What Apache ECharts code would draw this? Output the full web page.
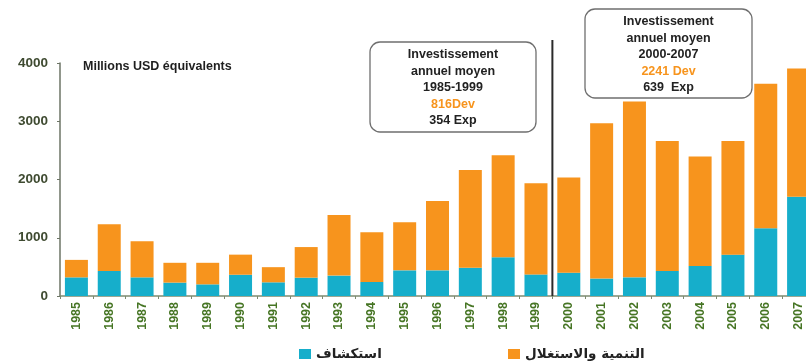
<!DOCTYPE html>
<html>
<head>
<meta charset="utf-8">
<script src="https://cdn.jsdelivr.net/npm/echarts@6/dist/echarts.min.js"></script>
<style>
html,body{margin:0;padding:0;background:#fff;overflow:hidden;}
#chart{width:815px;height:361px;}
</style>
</head>
<body>
<div id="chart"></div>
<script>
// Annual investment, million USD equivalent
const years = ['1985','1986','1987','1988','1989','1990','1991','1992','1993','1994','1995','1996','1997','1998','1999','2000','2001','2002','2003','2004','2005','2006','2007'];
const exploration = [320,430,320,230,200,365,235,315,350,240,440,440,485,665,370,400,300,320,430,515,710,1165,1705];
const development = [300,800,620,340,370,345,260,525,1040,855,825,1190,1680,1750,1565,1635,2665,3020,2230,1880,1950,2480,2200];
const yTicks = [0,1000,2000,3000,4000];
const expName = 'استكشاف';
const devName = 'التنمية والاستغلال';

const chart = echarts.init(document.getElementById('chart'));
const fam = 'Liberation Sans';

function box(id, x, y, w, h, lines) {
  const children = [{
    type: 'rect',
    shape: {x: 0, y: 0, width: w, height: h, r: 10},
    style: {fill: '#fff', stroke: '#6f6f6f', lineWidth: 1.3}
  }];
  lines.forEach((ln, i) => {
    children.push({
      type: 'text',
      x: w / 2, y: 13 + i * 16.5,
      style: {text: ln.t, fill: ln.c || '#222', fontFamily: fam, fontWeight: 'bold', fontSize: 12.5, align: 'center', verticalAlign: 'middle'}
    });
  });
  return {id: id, type: 'group', x: x, y: y, children: children, z: 10};
}

chart.setOption({
  animation: false,
  // the plot runs past the right edge of the visible window
  grid: {left: 60, top: 63, bottom: 65, right: 0, containLabel: false},
  legend: [
    {data: [expName], left: 294, top: 342, itemWidth: 12, itemHeight: 10, icon: 'rect',
     textStyle: {fontFamily: 'DejaVu Sans', fontSize: 13.5, color: '#222', fontWeight: 'bold'}},
    {data: [devName], left: 503, top: 342, itemWidth: 12, itemHeight: 10, icon: 'rect',
     textStyle: {fontFamily: 'DejaVu Sans', fontSize: 13.5, color: '#222', fontWeight: 'bold'}}
  ],
  xAxis: {
    type: 'category', data: years,
    axisLine: {lineStyle: {color: '#7d8a70', width: 1.5}},
    axisTick: {show: true, length: 3, lineStyle: {color: '#7d8a70'}},
    axisLabel: {rotate: 90, color: '#467524', fontWeight: 'bold', fontSize: 12.5, fontFamily: fam, margin: 6, interval: 0}
  },
  yAxis: {
    type: 'value', min: yTicks[0], max: yTicks[yTicks.length - 1], interval: 1000,
    splitLine: {show: false},
    axisLine: {show: true, lineStyle: {color: '#6d7566', width: 1.5}},
    axisTick: {show: true, length: 3, lineStyle: {color: '#6d7566'}},
    axisLabel: {color: '#3e4a30', fontWeight: 'bold', fontSize: 13.5, fontFamily: fam, margin: 12,
                formatter: v => String(v)}
  },
  series: [
    {name: expName, type: 'bar', stack: 'inv', data: exploration, barWidth: 23,
     itemStyle: {color: '#16AECB'}},
    {name: devName, type: 'bar', stack: 'inv', data: development, barWidth: 23,
     itemStyle: {color: '#F7941D'}}
  ],
  graphic: [
    {id: 'unit', type: 'text', x: 83, y: 67, style: {text: 'Millions USD équivalents', fill: '#1e1e1e', fontFamily: fam, fontWeight: 'bold', fontSize: 12.5, verticalAlign: 'middle'}},
    box('boxA', 370, 42, 166, 90, [
      {t: 'Investissement'}, {t: 'annuel moyen'}, {t: '1985-1999'}, {t: '816Dev', c: '#F7941D'}, {t: '354 Exp'}
    ]),
    box('boxB', 585, 9, 167, 89, [
      {t: 'Investissement'}, {t: 'annuel moyen'}, {t: '2000-2007'}, {t: '2241 Dev', c: '#F7941D'}, {t: '639  Exp'}
    ])
  ]
});

// Divider between the two periods, halfway between 1999 and 2000
const pA = chart.convertToPixel({gridIndex: 0}, ['1999', 0]);
const pB = chart.convertToPixel({gridIndex: 0}, ['2000', 0]);
const xDiv = (pA[0] + pB[0]) / 2;
chart.setOption({
  graphic: [
    {id: 'divider', type: 'line', shape: {x1: xDiv, y1: 40, x2: xDiv, y2: pA[1]}, style: {stroke: '#2a2a2a', lineWidth: 2}, z: 10}
  ]
});
</script>
</body>
</html>
